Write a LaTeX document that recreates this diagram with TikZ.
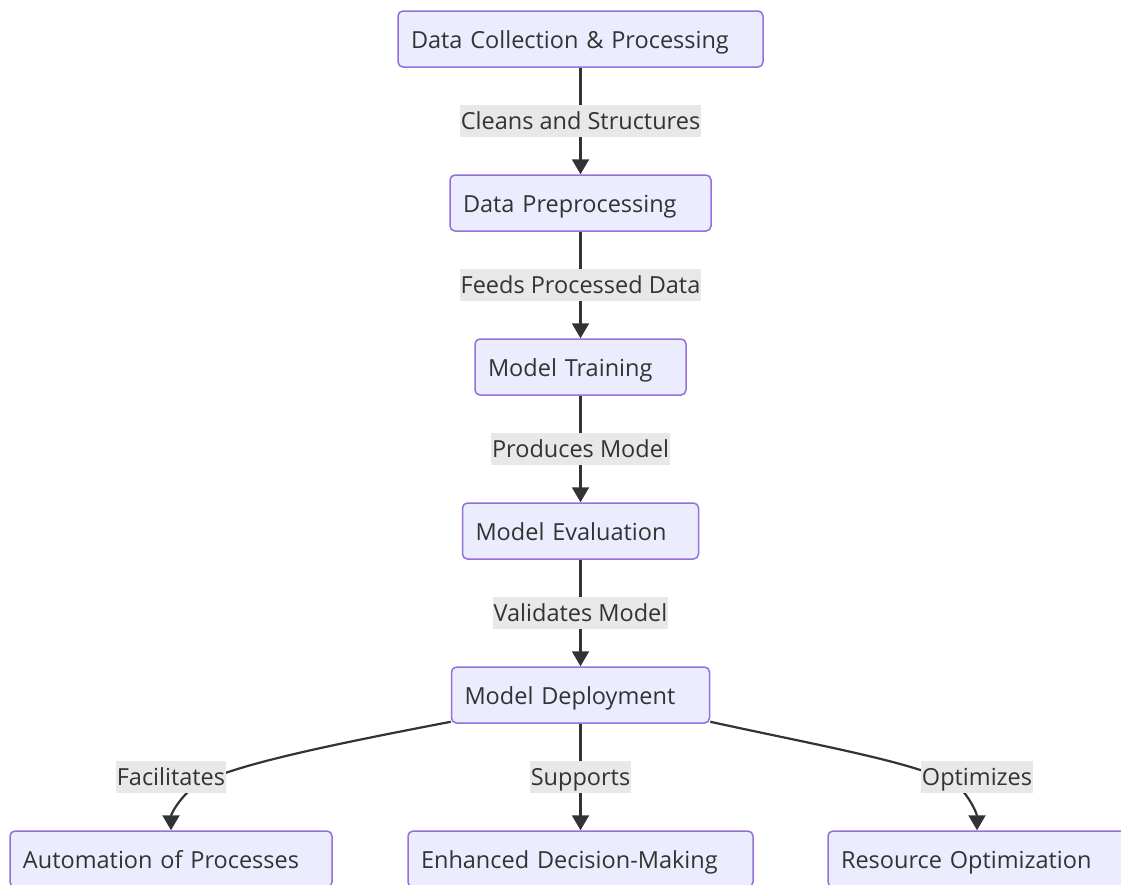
\documentclass[tikz,border=0pt]{standalone}
\usepackage{fontspec}
\setmainfont{Open Sans}
\usetikzlibrary{arrows.meta}
\definecolor{boxfill}{HTML}{ECECFF}
\definecolor{boxline}{HTML}{9370DB}
\definecolor{ink}{HTML}{333333}
\definecolor{lblbg}{HTML}{E8E8E8}
\begin{document}
\begin{tikzpicture}[x=1pt,y=1pt,
  box/.style={draw=boxline, fill=boxfill, line width=1.5pt, rounded corners=5pt,
    minimum height=56pt, inner xsep=13pt, inner ysep=0pt, align=left,
    execute at begin node={\rule[-6pt]{0pt}{30pt}},
    font=\fontsize{23.5}{28}\selectfont, text=ink},
  lbl/.style={fill=lblbg, inner xsep=1pt, inner ysep=0pt, minimum height=32pt,
    execute at begin node={\rule[-6pt]{0pt}{29pt}},
    font=\fontsize{23.5}{28}\selectfont, text=ink},
  edge/.style={draw=ink, line width=2.2pt, -{Triangle[length=15pt,width=17pt]}}]
\useasboundingbox (0,0) rectangle (1121,-884);
\fill[white] (0,0) rectangle (1121,-884);
\node[box, text width=339pt] (b1) at (580.5,-39) {Data Collection \& Processing};
\node[box, text width=235pt] (b2) at (580.5,-203) {Data Preprocessing};
\node[box, text width=185pt] (b3) at (580.5,-367) {Model Training};
\node[box, text width=210pt] (b4) at (580.5,-531) {Model Evaluation};
\node[box, text width=232pt] (b5) at (580.5,-695) {Model Deployment};
\node[box, text width=296pt] (b6) at (171,-859) {Automation of Processes};
\node[box, text width=319pt] (b7) at (580.5,-859) {Enhanced Decision-Making};
\node[box, text width=272pt] (b8) at (977,-859) {Resource Optimization};
\draw[edge] (b1) -- (b2) node[lbl, midway] (l1) {Cleans and Structures};
\draw[edge] (b2) -- (b3) node[lbl, midway] (l2) {Feeds Processed Data};
\draw[edge] (b3) -- (b4) node[lbl, midway] (l3) {Produces Model};
\draw[edge] (b4) -- (b5) node[lbl, midway] (l4) {Validates Model};
\draw[edge] (b5) -- (b7) node[lbl, midway] (l5) {Supports};
\draw[edge] ([yshift=2pt]b5.south west) .. controls (330,-745) and (215,-768) .. (190,-790)
   .. controls (176,-803) and (171,-815) .. (b6.north);
\draw[edge] ([yshift=2pt]b5.south east) .. controls (830,-748) and (937,-766) .. (962,-790)
   .. controls (973,-803) and (977,-815) .. (b8.north);
\node[lbl] (l6) at (171,-777) {Facilitates};
\node[lbl] (l7) at (977,-777) {Optimizes};
\end{tikzpicture}
\end{document}
